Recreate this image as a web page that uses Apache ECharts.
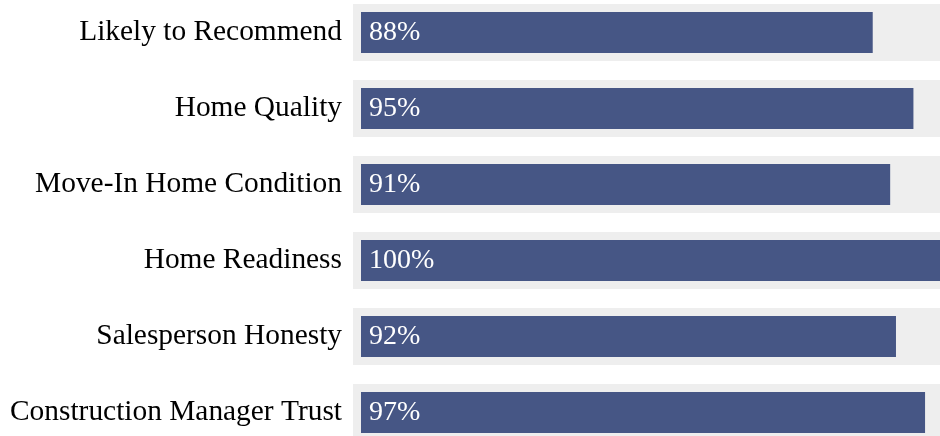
<!DOCTYPE html>
<html>
<head>
<meta charset="utf-8">
<script src="https://cdn.jsdelivr.net/npm/echarts@6/dist/echarts.min.js"></script>
<style>html,body{margin:0;padding:0;background:#fff;}#c{width:940px;height:436px;}</style>
</head>
<body>
<div id="c"></div>
<script>
const categories = ["Likely to Recommend", "Home Quality", "Move-In Home Condition", "Home Readiness", "Salesperson Honesty", "Construction Manager Trust"];
const values = [88, 95, 91, 100, 92, 97];

const FONT = '"Liberation Serif", "Times New Roman", serif';
const chart = echarts.init(document.getElementById('c'), null, {renderer: 'canvas'});
const data = categories.map((c, i) => [i, values[i]]);

chart.setOption({
  animation: false,
  grid: {left: 361, width: 579, top: -5.5, height: 456, containLabel: false, outerBoundsMode: 'none'},
  xAxis: {type: 'value', min: 0, max: 99.57, show: false},
  yAxis: {
    type: 'category', data: categories, inverse: true,
    axisLine: {show: false}, axisTick: {show: false}, splitLine: {show: false},
    axisLabel: {fontFamily: FONT, fontSize: 29.4, color: '#000', margin: 19}
  },
  series: [{
    type: 'custom',
    clip: false,
    encode: {x: 1, y: 0},
    data: data,
    renderItem: function (params, api) {
      const cat = api.value(0);
      const v = api.value(1);
      const s = api.coord([0, cat]);
      const e = api.coord([v, cat]);
      const cs = params.coordSys;
      const right = cs.x + cs.width;
      const bx = s[0] - 8;
      return {
        type: 'group',
        children: [
          {type: 'rect', shape: {x: bx, y: s[1] - 28.5, width: right - bx, height: 57}, style: {fill: '#eeeeee'}},
          {type: 'rect', shape: {x: s[0], y: s[1] - 20.5, width: Math.min(e[0], right) - s[0], height: 41}, style: {fill: '#465685'}},
          {type: 'text', x: s[0] + 8, y: s[1], style: {text: v + '%', fill: '#fff', fontFamily: FONT, fontSize: 28, verticalAlign: 'middle', align: 'left'}}
        ]
      };
    }
  }]
});
</script>
</body>
</html>
